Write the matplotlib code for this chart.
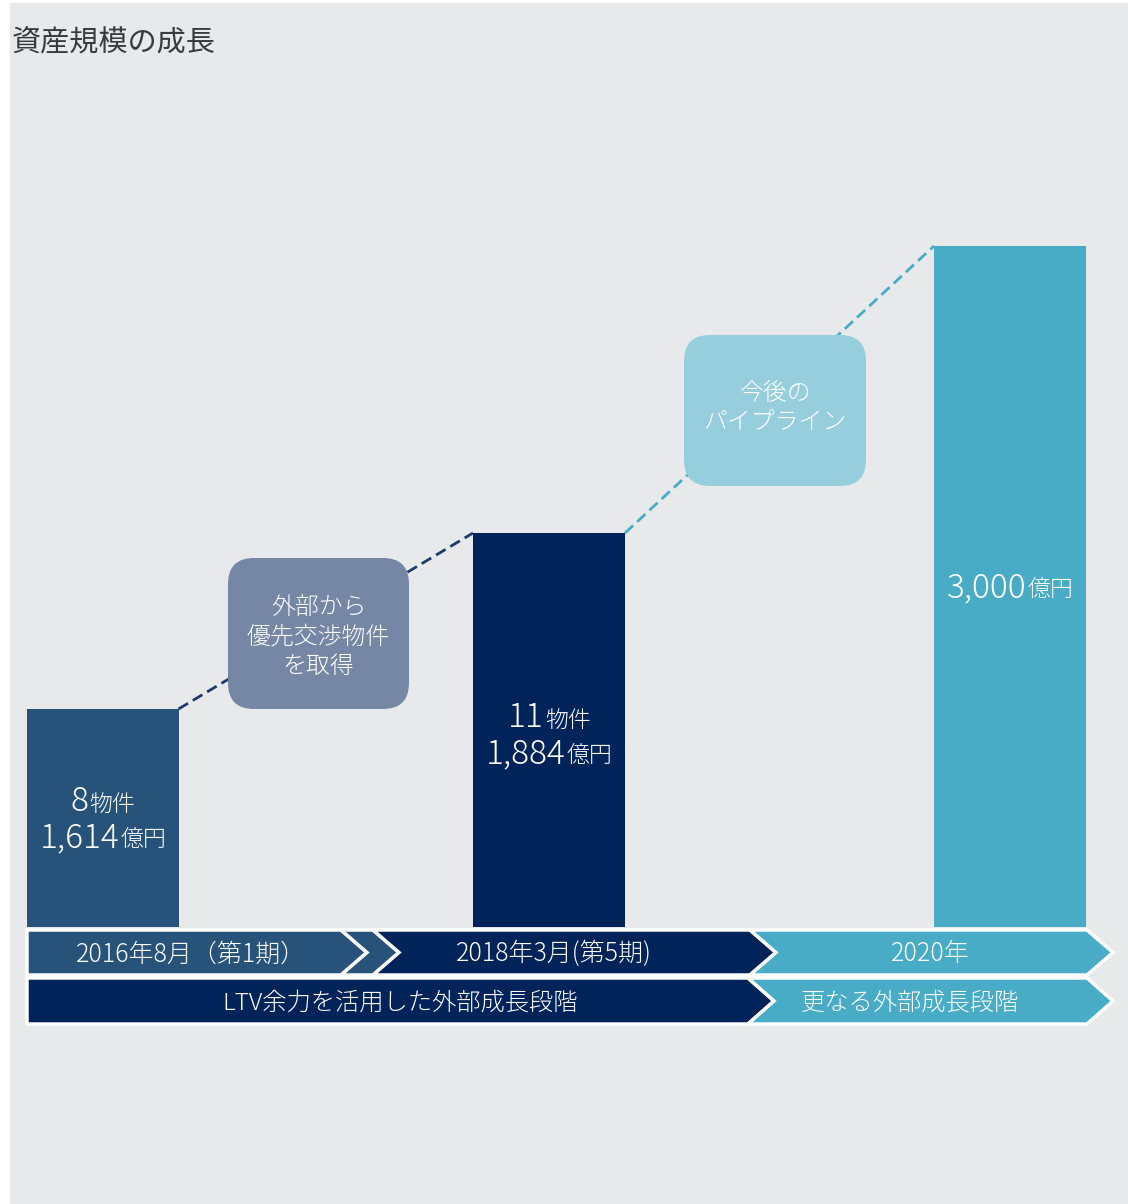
import matplotlib
matplotlib.use('Agg')
import matplotlib.pyplot as plt
from matplotlib.patches import Rectangle, Polygon, FancyBboxPatch

plt.rcParams['font.family'] = ['Noto Sans CJK JP', 'DejaVu Sans']

# data
title = '資産規模の成長'
periods = ['2016年8月（第1期）', '2018年3月(第5期)', '2020年']
stages = ['LTV余力を活用した外部成長段階', '更なる外部成長段階']
property_counts = [8, 11, None]
asset_values = [1614, 1884, 3000]          # 億円
bar_heights = [218, 394, 681]              # drawn height (not to scale in the original)
box_texts = ['外部から\n優先交渉物件\nを取得', '今後の\nパイプライン']

W, H = 1128, 1204
def Y(py):
    return H - py

bg = '#E8E9EB'
c_mid = '#27537B'
c_navy = '#00235A'
c_teal = '#48ACC7'
bar_colors = [c_mid, c_navy, c_teal]
box_colors = ['#7587A5', '#97CEDD']
line_colors = ['#1F3A6E', c_teal]

fig = plt.figure(figsize=(W / 100, H / 100), dpi=100, facecolor='white')
ax = fig.add_axes([0, 0, 1, 1])
ax.set_xlim(0, W)
ax.set_ylim(0, H)
ax.axis('off')

ax.add_patch(Rectangle((10, 0), W - 10, Y(3), color=bg, zorder=0))
ax.text(12, Y(43), title, fontsize=21, color='#3A3A3A', va='center', ha='left')

# bars
base = Y(927)
bar_x = [102.5, 549, 1010]
bars = ax.bar(bar_x, bar_heights, width=152, bottom=base, color=bar_colors, zorder=2)

# dashed connectors from one bar top to the next
for i in range(2):
    x1 = bars[i].get_x() + bars[i].get_width()
    y1 = base + bar_heights[i]
    x2 = bars[i + 1].get_x()
    y2 = base + bar_heights[i + 1]
    ax.plot([x1, x2], [y1, y2], color=line_colors[i], lw=2, ls=(0, (4, 2)), zorder=1)

# rounded boxes: (left, top, width, height, text centre) in pixels
box_pos = [(228, 558, 181, 151, 637), (684, 335, 182, 151, 408)]
for (bx, by, bw, bh, ty), col, txt in zip(box_pos, box_colors, box_texts):
    ax.add_patch(FancyBboxPatch((bx, Y(by + bh)), bw, bh,
                                boxstyle='round,pad=0,rounding_size=26',
                                fc=col, ec='none', zorder=3))
    ax.text(bx + bw / 2, Y(ty), txt,
            fontsize=17.2, color='white', ha='center', va='center',
            linespacing=1.22, zorder=4, fontweight='light')

renderer = fig.canvas.get_renderer()

def mixed(xc, py, num, unit):
    t1 = ax.text(0, Y(py), num, fontsize=24, color='white', va='baseline', zorder=4, fontweight='light')
    t2 = ax.text(0, Y(py), unit, fontsize=16.5, color='white', va='baseline', zorder=4, fontweight='light')
    w1 = t1.get_window_extent(renderer).width
    w2 = t2.get_window_extent(renderer).width
    x0 = xc - (w1 + w2) / 2
    t1.set_x(x0)
    t2.set_x(x0 + w1 + 1)

label_rows = [(811, 847), (727, 763), (None, 597)]
for xc, cnt, val, (py1, py2) in zip(bar_x, property_counts, asset_values, label_rows):
    if cnt is not None:
        mixed(xc, py1, str(cnt), '物件')
    mixed(xc, py2, f'{val:,}', '億円')

# chevron timeline
def chevron(x0, x1, top, bot, notch=True, tip=26):
    mid = (top + bot) / 2
    pts = [(x0, top), (x1, top), (x1 + tip, mid), (x1, bot), (x0, bot)]
    if notch:
        pts.append((x0 + tip, mid))
    return [(x, Y(y)) for x, y in pts]

row1 = [(27, 341, c_mid, False), (341, 373, c_mid, True),
        (373, 750, c_navy, True), (750, 1087, c_teal, True)]
for x0, x1, col, n in row1:
    ax.add_patch(Polygon(chevron(x0, x1, 930, 975, n), closed=True, fc=col,
                         ec='white', lw=2.5, joinstyle='miter', zorder=3))
row2 = [(27, 748, c_navy, False), (748, 1087, c_teal, True)]
for x0, x1, col, n in row2:
    ax.add_patch(Polygon(chevron(x0, x1, 978, 1024, n), closed=True, fc=col,
                         ec='white', lw=2.5, joinstyle='miter', zorder=3))

for xc, txt in zip([191, 554, 930], periods):
    ax.text(xc, Y(954), txt, fontsize=18, color='white', ha='center', va='center',
            zorder=4, fontweight='light')
for xc, txt in zip([400, 910], stages):
    ax.text(xc, Y(1003), txt, fontsize=17.5, color='white', ha='center', va='center',
            zorder=4, fontweight='light')

fig.savefig('out.png', dpi=100, facecolor=fig.get_facecolor())
